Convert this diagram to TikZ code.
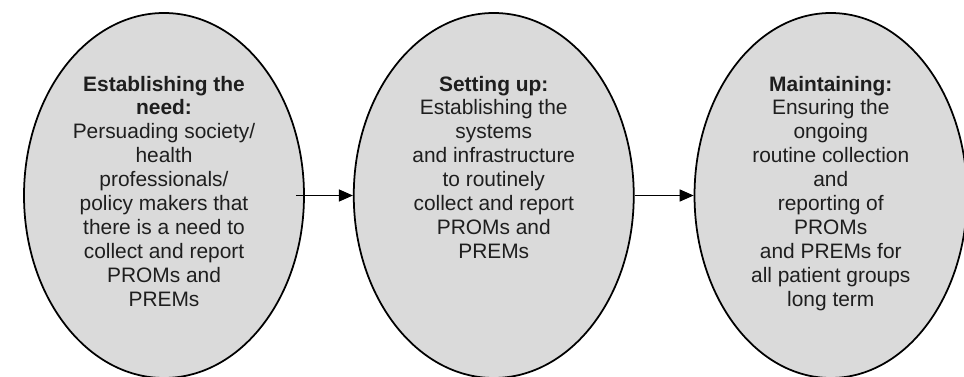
\documentclass[tikz,border=0pt]{standalone}
\usepackage{fontspec}
\setmainfont{Liberation Sans}
\usetikzlibrary{positioning,arrows.meta,shapes.geometric}
\definecolor{stagegray}{HTML}{DADADA}
\definecolor{textgray}{HTML}{1E1E1E}

\begin{document}
\begin{tikzpicture}[->,>={Triangle[length=0.28cm,width=0.24cm]}, line width=0.85pt, stage/.style={ellipse, draw, fill=stagegray, line width=1pt, minimum width=5.6cm, minimum height=7.3cm, inner sep=0pt}, stagetext/.style={align=center, inner sep=0pt, text=textgray, font=\fontsize{11.9}{13.6}\selectfont}]

  \useasboundingbox (0,0) rectangle (19.28,7.54);

  \node[stage] (need) at (3.28,3.63) {};
  \node[stage] (setup) [right = 0.96cm of need] {};
  \node[stage, minimum width=5.45cm] (maint) [right = 1.18cm of setup] {};

  \node[stagetext] (needtxt) [below = 1.26cm of need.north] {\textbf{Establishing the}\\ \textbf{need:}\\ Persuading society/\\ health\\ professionals/\\ policy makers that\\ there is a need to\\ collect and report\\ PROMs and\\ PREMs};
  \node[stagetext] (setuptxt) [below = 1.26cm of setup.north] {\textbf{Setting up:}\\ Establishing the\\ systems\\ and infrastructure\\ to routinely\\ collect and report\\ PROMs and\\ PREMs};
  \node[stagetext] (mainttxt) [below = 1.26cm of maint.north] {\textbf{Maintaining:}\\ Ensuring the\\ ongoing\\ routine collection\\ and\\ reporting of\\ PROMs\\ and PREMs for\\ all patient groups\\ long term};

  \coordinate[left = 0.18cm of need.east] (needout);

  \path
    (needout) edge (setup)
    (setup) edge (maint)
  ;
\end{tikzpicture}
\end{document}
